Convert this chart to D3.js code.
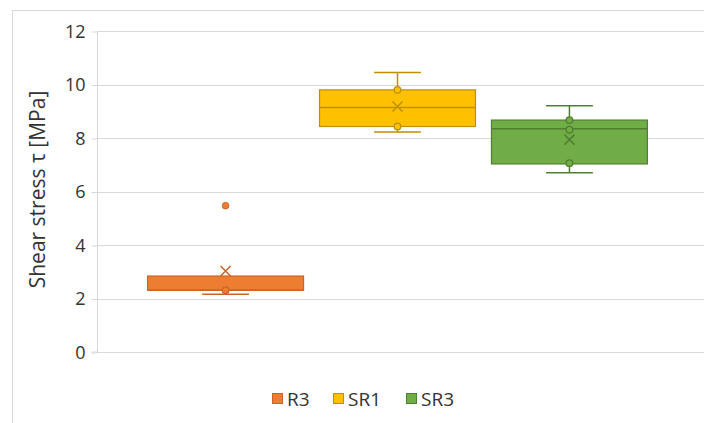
<!DOCTYPE html>
<html>
<head>
<meta charset="utf-8">
<script src="https://cdn.jsdelivr.net/npm/d3@7"></script>
<style>
  html, body { margin: 0; padding: 0; background: #fff; }
  svg { display: block; font-family: "Open Sans", "Liberation Sans", Arial, sans-serif; }
</style>
</head>
<body>
<svg id="chart" width="704" height="423"></svg>
<script>
// Series (one category, three specimen groups)
const seriesNames = ["R3", "SR1", "SR3"];
const fillColors = ["#ED7D31", "#FFC000", "#70AD47"];
const strokeColors = ["#C9652A", "#BF9000", "#507E32"];

// Box statistics per series [MPa]
const whiskerLow = [2.16, 8.22, 6.70];
const quartile1  = [2.31, 8.43, 7.03];
const medians    = [2.31, 9.14, 8.35];
const quartile3  = [2.84, 9.80, 8.67];
const whiskerHigh = [2.84, 10.45, 9.21];
const means      = [3.03, 9.18, 7.94];
// Inner points and outliers
const innerPoints = [[2.31], [9.80, 8.43], [8.67, 8.31, 7.06]];
const outliers    = [[5.47], [], []];

const yTicks = [0, 2, 4, 6, 8, 10, 12];

const svg = d3.select("#chart");
const W = 704, H = 423;
const plot = { left: 97, right: 704, top: 31, bottom: 352 };
const textColor = "#333333";

// Chart area border
svg.append("rect")
  .attr("x", 12.5).attr("y", 10.5)
  .attr("width", W + 20).attr("height", H + 20)
  .attr("fill", "#fff").attr("stroke", "#D9D9D9").attr("stroke-width", 1);

const y = d3.scaleLinear().domain([0, 12]).range([plot.bottom, plot.top]);
const x = d3.scaleBand().domain(seriesNames).range([139.5, 655.5])
  .paddingInner(0.093).paddingOuter(0.047);

// Gridlines
svg.append("g").selectAll("line").data(yTicks).join("line")
  .attr("x1", plot.left).attr("x2", plot.right)
  .attr("y1", d => Math.round(y(d)) + 0.5).attr("y2", d => Math.round(y(d)) + 0.5)
  .attr("stroke", "#D9D9D9").attr("stroke-width", 1);

// Y axis
const yAxis = d3.axisLeft(y).tickValues(yTicks).tickSize(6).tickPadding(6);
const gy = svg.append("g").attr("transform", `translate(${plot.left + 0.5},0.5)`).call(yAxis);
gy.select(".domain").attr("stroke", "#D9D9D9").attr("d", `M-6,${plot.bottom - 0.5}H0V${plot.top - 0.5}`);
gy.selectAll(".tick line").attr("stroke", "#D9D9D9");
gy.selectAll(".tick text").attr("fill", textColor).attr("font-size", 18)
  .attr("font-family", "Open Sans, Liberation Sans, Arial, sans-serif");

// Axis title
svg.append("text")
  .attr("transform", `translate(45,${(plot.top + plot.bottom) / 2 - 2}) rotate(-90)`)
  .attr("text-anchor", "middle")
  .attr("fill", textColor).attr("font-size", 21)
  .text("Shear stress τ [MPa]");

// Boxes
const bw = x.bandwidth();
const capW = bw * 0.3;
const groups = svg.append("g").selectAll("g").data(seriesNames).join("g");

groups.each(function(name, i) {
  const g = d3.select(this);
  const cx = x(name) + bw / 2;
  const sc = strokeColors[i];
  // whiskers
  if (whiskerHigh[i] > quartile3[i]) {
    g.append("line").attr("x1", cx).attr("x2", cx)
      .attr("y1", y(whiskerHigh[i])).attr("y2", y(quartile3[i]))
      .attr("stroke", sc).attr("stroke-width", 1.5);
    g.append("line").attr("x1", cx - capW / 2).attr("x2", cx + capW / 2)
      .attr("y1", y(whiskerHigh[i])).attr("y2", y(whiskerHigh[i]))
      .attr("stroke", sc).attr("stroke-width", 1.5);
  }
  g.append("line").attr("x1", cx).attr("x2", cx)
    .attr("y1", y(quartile1[i])).attr("y2", y(whiskerLow[i]))
    .attr("stroke", sc).attr("stroke-width", 1.5);
  g.append("line").attr("x1", cx - capW / 2).attr("x2", cx + capW / 2)
    .attr("y1", y(whiskerLow[i])).attr("y2", y(whiskerLow[i]))
    .attr("stroke", sc).attr("stroke-width", 1.5);
  // box
  g.append("rect")
    .attr("x", x(name)).attr("width", bw)
    .attr("y", y(quartile3[i])).attr("height", y(quartile1[i]) - y(quartile3[i]))
    .attr("fill", fillColors[i]).attr("stroke", sc).attr("stroke-width", 1.2);
  // median
  g.append("line").attr("x1", x(name)).attr("x2", x(name) + bw)
    .attr("y1", y(medians[i])).attr("y2", y(medians[i]))
    .attr("stroke", sc).attr("stroke-width", 1.5);
  // mean marker
  const m = 5;
  g.append("path")
    .attr("d", `M${cx - m},${y(means[i]) - m}L${cx + m},${y(means[i]) + m}M${cx - m},${y(means[i]) + m}L${cx + m},${y(means[i]) - m}`)
    .attr("stroke", sc).attr("stroke-width", 1.5).attr("fill", "none");
  // inner points
  g.selectAll("circle.inner").data(innerPoints[i]).join("circle")
    .attr("class", "inner")
    .attr("cx", cx).attr("cy", d => y(d)).attr("r", 3.3)
    .attr("fill", fillColors[i]).attr("stroke", sc).attr("stroke-width", 1.3);
  // outliers
  g.selectAll("circle.out").data(outliers[i]).join("circle")
    .attr("class", "out")
    .attr("cx", cx).attr("cy", d => y(d)).attr("r", 3.3)
    .attr("fill", fillColors[i]).attr("stroke", sc).attr("stroke-width", 1);
});

// Legend
const legendX = [272, 333, 406];
const legend = svg.append("g").selectAll("g").data(seriesNames).join("g")
  .attr("transform", (d, i) => `translate(${legendX[i]},393)`);
legend.append("rect").attr("x", 0.5).attr("y", 0.5).attr("width", 10).attr("height", 10)
  .attr("fill", (d, i) => fillColors[i]).attr("stroke", (d, i) => strokeColors[i]);
legend.append("text").attr("x", 15).attr("y", 12.5)
  .attr("fill", textColor).attr("font-size", 19).text(d => d);
</script>
</body>
</html>
